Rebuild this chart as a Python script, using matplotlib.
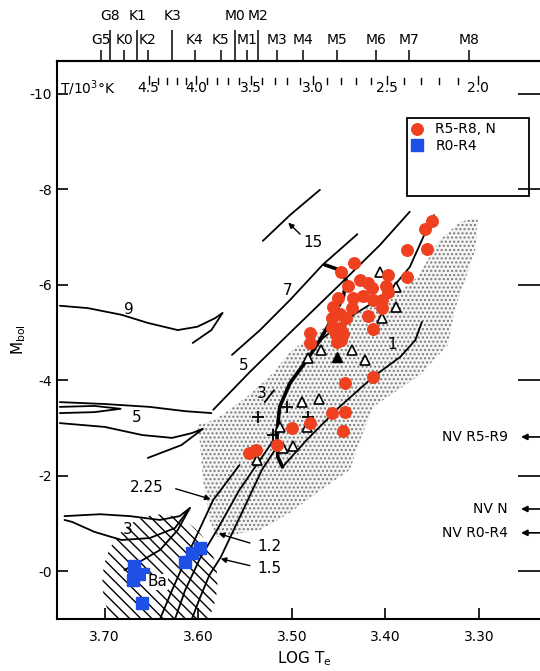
import numpy as np
import matplotlib.pyplot as plt
from matplotlib.patches import Polygon, Ellipse, Rectangle

plt.rcParams['font.family'] = ['DejaVu Sans']
plt.rcParams['hatch.color'] = 'black'
plt.rcParams['hatch.linewidth'] = 1.0

# ---------------- data (log Te, Mbol) ----------------
red_logT = [3.350, 3.358, 3.356, 3.377, 3.377, 3.397, 3.434, 3.448, 3.440, 3.427,
            3.419, 3.414, 3.399, 3.397, 3.424, 3.435, 3.413, 3.404, 3.404, 3.451,
            3.456, 3.436, 3.449, 3.457, 3.419, 3.413, 3.457, 3.449, 3.453, 3.445,
            3.481, 3.481, 3.452, 3.447, 3.442, 3.413, 3.443, 3.443, 3.457, 3.445,
            3.481, 3.500, 3.516, 3.538, 3.546]
red_mbol = [-7.34, -7.17, -6.75, -6.73, -6.16, -6.21, -6.46, -6.27, -5.97, -6.10,
            -6.04, -5.93, -5.97, -5.85, -5.77, -5.72, -5.68, -5.68, -5.51, -5.72,
            -5.53, -5.51, -5.39, -5.30, -5.35, -5.07, -5.09, -5.09, -4.97, -4.97,
            -4.99, -4.78, -4.80, -4.84, -5.30, -4.07, -3.94, -3.33, -3.31, -2.94,
            -3.10, -3.00, -2.64, -2.54, -2.47]

blue_logT = [3.669, 3.670, 3.659, 3.669, 3.660, 3.614, 3.607, 3.598]
blue_mbol = [0.02, 0.19, 0.06, -0.10, 0.67, -0.19, -0.38, -0.48]

tri_logT = [3.406, 3.389, 3.389, 3.404, 3.483, 3.469, 3.436, 3.422, 3.489, 3.471,
            3.484, 3.513, 3.510, 3.499, 3.537]
tri_mbol = [-6.27, -5.95, -5.53, -5.30, -4.47, -4.63, -4.63, -4.42, -3.54, -3.61,
            -3.02, -3.02, -2.58, -2.62, -2.33]
tri_fill_logT = [3.452]
tri_fill_mbol = [-4.49]

plus_logT = [3.536, 3.505, 3.483, 3.520]
plus_mbol = [-3.23, -3.44, -3.23, -2.85]

# evolutionary tracks
trk15 = [(3.531, -6.92), (3.502, -7.46), (3.470, -7.99)]
trk9 = [(3.748, -5.56), (3.718, -5.51), (3.682, -5.37), (3.654, -5.20), (3.622, -5.05),
        (3.601, -5.12), (3.582, -5.30), (3.574, -5.41), (3.586, -5.05), (3.606, -4.78)]
trk7 = [(3.564, -4.53), (3.534, -5.05), (3.502, -5.68), (3.467, -6.42), (3.430, -7.06)]
trk5_a = [(3.748, -3.54), (3.700, -3.50), (3.652, -3.44), (3.614, -3.35), (3.586, -3.31)]
trk5_b = [(3.748, -3.44), (3.711, -3.46), (3.683, -3.40), (3.711, -3.33), (3.748, -3.31)]
trk5_c = [(3.748, -3.10), (3.700, -3.02), (3.660, -2.85), (3.628, -2.79), (3.607, -2.89),
          (3.595, -2.98), (3.618, -2.64), (3.654, -2.37)]
trk5_agb = [(3.584, -3.38), (3.545, -4.17), (3.499, -5.05), (3.449, -6.00),
            (3.406, -6.83), (3.374, -7.53)]
trk3_loop = [(3.743, -1.15), (3.705, -1.19), (3.673, -1.15), (3.641, -1.07), (3.620, -1.15),
             (3.609, -1.32), (3.625, -0.90), (3.652, -0.69), (3.682, -0.65), (3.711, -0.82),
             (3.735, -1.03), (3.743, -1.07)]
trk3_branch = [(3.609, -1.32), (3.622, -0.86), (3.641, -0.44), (3.663, -0.19), (3.679, -0.02)]
trk3_stub = [(3.529, -3.54), (3.519, -3.79)]
trk3_agb = [(3.472, -4.80), (3.456, -5.05), (3.438, -5.32), (3.409, -5.68), (3.392, -5.95),
            (3.374, -6.37), (3.360, -6.98), (3.348, -7.46)]
trk225 = [(3.641, 1.01), (3.628, 0.40), (3.609, -0.44), (3.584, -1.49), (3.556, -2.22)]
trk12 = [(3.625, 1.01), (3.614, 0.40), (3.598, -0.27), (3.580, -0.86), (3.556, -1.70),
         (3.534, -2.33), (3.521, -2.70)]
trk15_low = [(3.607, 1.01), (3.598, 0.55), (3.588, 0.08), (3.576, -0.29), (3.552, -1.28),
             (3.532, -2.12), (3.516, -2.60)]
trk1 = [(3.510, -2.18), (3.484, -2.75), (3.449, -3.44), (3.413, -4.07), (3.384, -4.49),
        (3.368, -4.84), (3.361, -5.22)]
thick = [(3.465, -6.42), (3.449, -6.31), (3.442, -6.10), (3.445, -5.74), (3.456, -5.32),
         (3.470, -4.84), (3.484, -4.42), (3.502, -3.94), (3.513, -3.44), (3.516, -2.89),
         (3.515, -2.39), (3.510, -2.18)]

stipple = [(3.601, -3.06), (3.582, -3.17), (3.548, -3.65), (3.520, -4.15), (3.502, -4.59),
           (3.470, -5.05), (3.443, -5.30), (3.417, -5.58), (3.388, -5.79), (3.366, -6.16),
           (3.342, -6.94), (3.320, -7.32), (3.301, -7.40), (3.304, -6.73), (3.315, -6.10),
           (3.326, -5.47), (3.333, -4.74), (3.363, -4.11), (3.413, -3.44), (3.427, -2.75),
           (3.438, -2.12), (3.473, -1.64), (3.502, -1.22), (3.534, -0.86), (3.580, -0.71),
           (3.588, -1.07), (3.595, -1.91), (3.598, -2.64)]

# spectral types along the top
sp_long_pos = [3.694, 3.665, 3.628, 3.561, 3.536]
sp_long_lab = ['G8', 'K1', 'K3', 'M0', 'M2']
sp_short_pos = [3.704, 3.679, 3.654, 3.604, 3.576, 3.548, 3.516, 3.488, 3.452, 3.410, 3.375, 3.311]
sp_short_lab = ['G5', 'K0', 'K2', 'K4', 'K5', 'M1', 'M3', 'M4', 'M5', 'M6', 'M7', 'M8']

# temperature scale (K)
T_minor = [4500, 4400, 4300, 4200, 4100, 4000, 3900, 3800, 3700, 3600, 3500, 3400, 3300,
           3200, 3100, 3000, 2900, 2800, 2700, 2600, 2500, 2400, 2300, 2200, 2100, 2000]
T_major = [4500, 4000, 3500, 3000, 2500, 2000]
T_major_lab = ['4.5', '4.0', '3.5', '3.0', '2.5', '2.0']

xticks = [3.70, 3.60, 3.50, 3.40, 3.30]
xtick_lab = ['3.70', '3.60', '3.50', '3.40', '3.30']
yticks = [-10, -8, -6, -4, -2, 0]
ytick_lab = ['-10', '-8', '-6', '-4', '-2', '-0']

nv_mbol = [-2.81, -1.30, -0.80]
nv_lab = ['NV R5-R9', 'NV N', 'NV R0-R4']

# ---------------- figure ----------------
fig = plt.figure(figsize=(5.4, 6.71), dpi=100)
ax = fig.add_axes([0.1056, 0.0775, 0.9148, 0.8316])
ax.set_xlim(3.751, 3.223)
ax.set_ylim(1.006, -10.69)
for s in ax.spines.values():
    s.set_linewidth(1.5)

# stippled region and hatched Ba region
ax.add_patch(Polygon(stipple, closed=True, facecolor='#f4f4f4', edgecolor='#7a7a7a',
                     hatch='....', lw=0, zorder=1))
ax.add_patch(Ellipse((3.641, 0.23), width=0.123, height=2.83, fill=False,
                     hatch='\\\\\\', edgecolor='black', lw=0, zorder=1.5))

def draw(trk, lw=1.3):
    xs, ys = zip(*trk)
    ax.plot(xs, ys, color='black', lw=lw, solid_capstyle='round', zorder=3)

for t in [trk15, trk9, trk7, trk5_a, trk5_b, trk5_c, trk5_agb, trk3_loop, trk3_branch,
          trk3_stub, trk3_agb, trk225, trk12, trk15_low, trk1]:
    draw(t)
draw(thick, lw=2.6)

# track labels
lab_kw = dict(fontsize=11, ha='center', va='center', zorder=5)
ax.text(3.674, -5.49, '9', **lab_kw)
ax.text(3.666, -3.21, '5', **lab_kw)
ax.text(3.676, -0.86, '3', **lab_kw)
ax.text(3.552, -4.30, '5', **lab_kw)
ax.text(3.532, -3.73, '3', **lab_kw)
ax.text(3.505, -5.87, '7', **lab_kw)
ax.text(3.478, -6.88, '15', **lab_kw)
ax.text(3.393, -4.74, '1', **lab_kw)
ax.text(3.644, 0.23, 'Ba', fontsize=11, ha='center', va='center', zorder=8,
        bbox=dict(facecolor='white', edgecolor='none', pad=0.5))
ax.text(3.655, -1.76, '2.25', **lab_kw)
ax.text(3.524, -0.52, '1.2', **lab_kw)
ax.text(3.524, -0.06, '1.5', **lab_kw)

arr = dict(arrowstyle='-|>', color='black', lw=1.0, mutation_scale=8)
ax.annotate('', xy=(3.506, -7.34), xytext=(3.489, -7.02), arrowprops=arr, zorder=4)
ax.annotate('', xy=(3.584, -1.49), xytext=(3.627, -1.74), arrowprops=arr, zorder=4)
ax.annotate('', xy=(3.581, -0.80), xytext=(3.542, -0.57), arrowprops=arr, zorder=4)
ax.annotate('', xy=(3.579, -0.27), xytext=(3.542, -0.10), arrowprops=arr, zorder=4)

# stars
ax.plot(tri_logT, tri_mbol, '^', ms=6.5, mfc='white', mec='black', mew=1.2, ls='none', zorder=6)
ax.plot(tri_fill_logT, tri_fill_mbol, '^', ms=6.5, color='black', ls='none', zorder=6)
ax.plot(plus_logT, plus_mbol, '+', ms=9, color='black', mew=1.3, ls='none', zorder=6)
ax.plot(red_logT, red_mbol, 'o', ms=8.3, color='#ef4020', ls='none', zorder=7,
        label='R5-R8, N')
ax.plot(blue_logT, blue_mbol, 's', ms=8, color='#1f50e6', ls='none', zorder=7,
        label='R0-R4')

# legend box
ax.add_patch(Rectangle((0.709, 0.758), 0.246, 0.140, transform=ax.transAxes,
                       fill=False, lw=1.3, zorder=8))
ax.legend(loc='upper left', bbox_to_anchor=(0.712, 0.895), frameon=False, fontsize=10,
          handlelength=0.8, handletextpad=0.9, labelspacing=0.2, borderpad=0.2,
          borderaxespad=0)

# temperature scale inside the plot
for T in T_minor:
    lt = np.log10(T)
    top = -10.38 if T in T_major else -10.33
    ax.plot([lt, lt], [top, -10.21], color='black', lw=1.0, zorder=4)
for T, lab in zip(T_major, T_major_lab):
    ax.text(np.log10(T), -10.12, lab, fontsize=10, ha='center', va='center')
ax.text(3.748, -10.12, 'T/10$^{3}$°K', fontsize=10, ha='left', va='center')

# NV arrows on the right
for m, lab in zip(nv_mbol, nv_lab):
    ax.text(3.269, m, lab, fontsize=10, ha='right', va='center')
    ax.annotate('', xy=(3.258, m), xytext=(3.226, m),
                arrowprops=dict(arrowstyle='-|>', color='black', lw=1.2, mutation_scale=9))

# axes ticks
ax.set_xticks(xticks, labels=xtick_lab)
ax.set_yticks(yticks, labels=ytick_lab)
ax.tick_params(axis='both', direction='in', length=8, width=1.2, labelsize=10)
ax.tick_params(axis='x', pad=8)
ax.set_xlabel('LOG T$_\\mathregular{e}$', fontsize=11, labelpad=4)
ax.set_ylabel('M$_\\mathregular{bol}$', fontsize=11, labelpad=1)

secy = ax.secondary_yaxis('right')
secy.set_yticks(yticks, labels=[''] * len(yticks))
secy.tick_params(direction='in', length=24, width=1.2)

sec = ax.secondary_xaxis('top')
sec.set_xticks(sp_long_pos, labels=sp_long_lab)
sec.set_xticks(sp_short_pos, labels=sp_short_lab, minor=True)
sec.tick_params(which='major', direction='out', length=22, width=1.1, pad=5, labelsize=10)
sec.tick_params(which='minor', direction='out', length=8, width=1.1, pad=2, labelsize=10)
sec.spines['top'].set_linewidth(1.5)

fig.savefig('out.png', dpi=100)
